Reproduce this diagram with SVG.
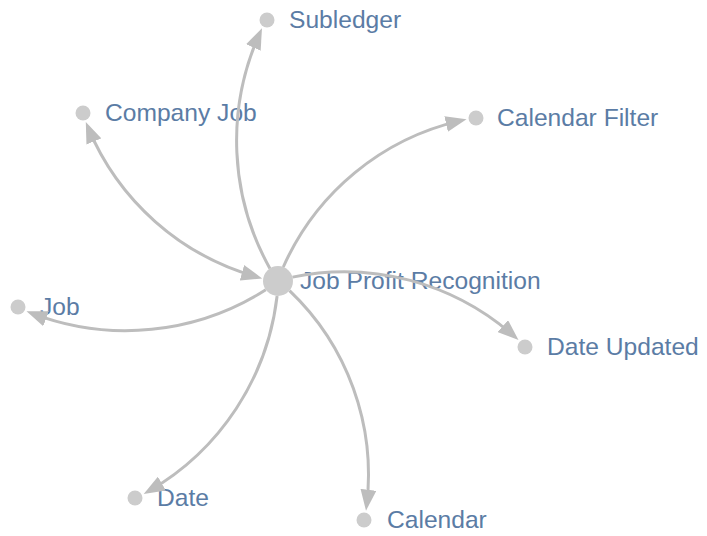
<svg xmlns="http://www.w3.org/2000/svg" width="707" height="536" viewBox="0 0 707 536">
<style>
.node{fill:#cccccc}
.label{font-family:"Liberation Sans",Arial,sans-serif;font-size:24.6px;fill:#5b7ca5}
.link{fill:none;stroke:#bdbdbd;stroke-width:3}
</style>
<defs>
<marker id="arrow" viewBox="0 -8 21 16" refX="15" refY="0" markerWidth="21" markerHeight="16" markerUnits="userSpaceOnUse" orient="auto-start-reverse">
<path d="M0,-8L21,0L0,8Z" fill="#bdbdbd"/>
</marker>
</defs>
<rect width="707" height="536" fill="#ffffff"/>
<g id="node-job-profit-recognition"><circle class="node" cx="278" cy="281" r="15"/><text class="label" x="300" y="289">Job Profit Recognition</text></g>
<g id="node-subledger"><circle class="node" cx="267" cy="20" r="7.5"/><text class="label" x="289" y="28">Subledger</text></g>
<g id="node-company-job"><circle class="node" cx="83" cy="113" r="7.5"/><text class="label" x="105" y="121">Company Job</text></g>
<g id="node-calendar-filter"><circle class="node" cx="476" cy="118" r="7.5"/><text class="label" x="497" y="126">Calendar Filter</text></g>
<g id="node-job"><circle class="node" cx="18" cy="307" r="7.5"/><text class="label" x="40" y="315">Job</text></g>
<g id="node-date-updated"><circle class="node" cx="525" cy="347" r="7.5"/><text class="label" x="547" y="355">Date Updated</text></g>
<g id="node-date"><circle class="node" cx="135" cy="498" r="7.5"/><text class="label" x="157" y="506">Date</text></g>
<g id="node-calendar"><circle class="node" cx="364" cy="520" r="7.5"/><text class="label" x="387" y="528">Calendar</text></g>
<g id="connectors">
<path class="link" marker-end="url(#arrow)" d="M269.9,268.4 A261.3,261.3 0 0 1 259.5,33.8"/>
<path class="link" marker-start="url(#arrow)" marker-end="url(#arrow)" d="M256.4,276.8 A258,258 0 0 1 88.1,127.6"/>
<path class="link" marker-end="url(#arrow)" d="M283.3,267.0 A256.5,256.5 0 0 1 460.7,120.6"/>
<path class="link" marker-end="url(#arrow)" d="M265.8,289.8 A261.3,261.3 0 0 1 32.1,313.4"/>
<path class="link" marker-end="url(#arrow)" d="M292.5,277.1 A255.7,255.7 0 0 1 514.0,336.1"/>
<path class="link" marker-end="url(#arrow)" d="M289.5,290.7 A254,254 0 0 1 366.7,504.7"/>
<path class="link" marker-end="url(#arrow)" d="M277.1,296.0 A259.9,259.9 0 0 1 148.9,491.1"/>
</g>
</svg>
